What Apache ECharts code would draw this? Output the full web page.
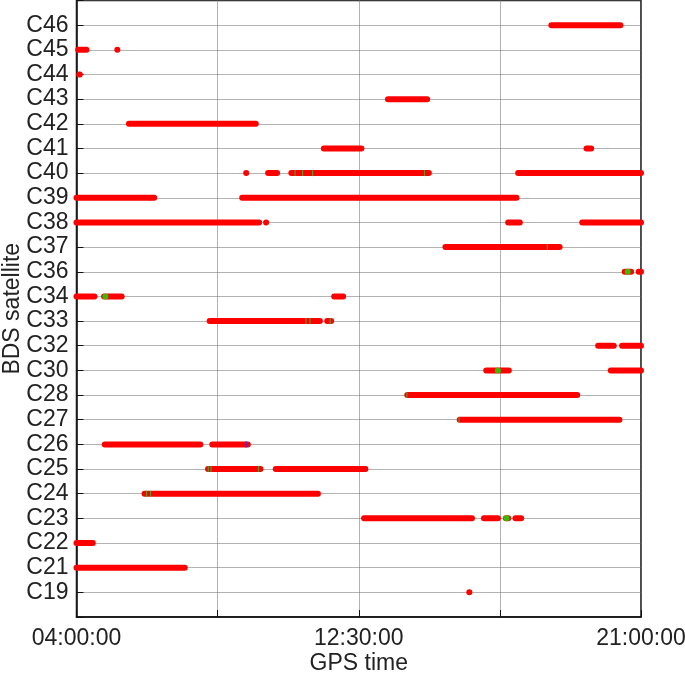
<!DOCTYPE html>
<html>
<head>
<meta charset="utf-8">
<script src="https://cdn.jsdelivr.net/npm/echarts@6/dist/echarts.min.js"></script>
<style>
  html, body { margin: 0; padding: 0; background: #fff; }
  #chart { width: 685px; height: 675px; }
</style>
</head>
<body>
<div id="chart"></div>
<script>
// Satellites, bottom to top
const satellites = ['C19','C21','C22','C23','C24','C25','C26','C27','C28','C30','C32','C33',
                    'C34','C36','C37','C38','C39','C40','C41','C42','C43','C44','C45','C46'];

// Tracking passes: [satellite, start hour, end hour] (GPS time, decimal hours)
const passes = [
  ['C46', 18.30, 20.38],
  ['C45', 4.05, 4.30], ['C45', 5.23, 5.23],
  ['C44', 4.08, 4.10],
  ['C43', 13.38, 14.56],
  ['C42', 5.58, 9.40],
  ['C41', 11.45, 12.58], ['C41', 19.36, 19.50],
  ['C40', 9.11, 9.11], ['C40', 9.77, 10.04], ['C40', 10.47, 14.61], ['C40', 17.30, 21.0],
  ['C39', 4.0, 6.34], ['C39', 8.99, 17.25],
  ['C38', 4.0, 9.50], ['C38', 9.71, 9.71], ['C38', 17.0, 17.35], ['C38', 19.23, 21.0],
  ['C37', 15.11, 18.55],
  ['C36', 20.51, 20.70], ['C36', 20.93, 21.0],
  ['C34', 4.0, 4.54], ['C34', 4.83, 5.36], ['C34', 11.76, 12.03],
  ['C33', 8.01, 11.33], ['C33', 11.55, 11.67],
  ['C32', 19.71, 20.18], ['C32', 20.43, 21.0],
  ['C30', 16.34, 17.02], ['C30', 20.09, 21.0],
  ['C28', 13.96, 19.08],
  ['C27', 15.54, 20.35],
  ['C26', 4.85, 7.73], ['C26', 8.09, 9.16],
  ['C25', 7.96, 9.54], ['C25', 10.0, 12.70],
  ['C24', 6.05, 11.27],
  ['C23', 12.66, 15.91], ['C23', 16.27, 16.69], ['C23', 16.93, 17.0], ['C23', 17.22, 17.39],
  ['C22', 4.0, 4.49],
  ['C21', 4.0, 7.26],
  ['C19', 15.83, 15.83]
];

// Small green marks on passes: [satellite, hour]
const greenMarks = [
  ['C40', 10.58], ['C40', 10.81], ['C40', 11.11], ['C40', 14.48],
  ['C37', 18.18],
  ['C33', 10.91], ['C33', 11.03], ['C33', 11.64],
  ['C28', 13.95],
  ['C27', 15.52],
  ['C25', 7.97], ['C25', 8.05], ['C25', 9.48],
  ['C24', 6.11], ['C24', 6.23]
];
// Green dots: [satellite, hour]
const greenDots = [
  ['C34', 4.87], ['C36', 20.60], ['C30', 16.69], ['C23', 16.95]
];
// Blue marks: [satellite, hour]
const blueMarks = [
  ['C26', 9.11]
];

const T0 = 4;          // axis start 04:00:00
const SPAN = 17;       // 04:00:00 -> 21:00:00
const STEP = 4.25;     // grid step (hours)
const xTickLabels = ['04:00:00', '', '12:30:00', '', '21:00:00'];

const idx = s => satellites.indexOf(s);
const passData = passes.map(p => [p[1] - T0, p[2] - T0, idx(p[0])]);
const markData = arr => arr.map(m => [m[1] - T0, idx(m[0])]);

const chart = echarts.init(document.getElementById('chart'), null, { renderer: 'canvas' });
const FONT = 'Liberation Sans, Arial, sans-serif';
const FS = 23;

chart.setOption({
  animation: false,
  backgroundColor: '#ffffff',
  grid: {
    left: 76.5, right: 44, top: 0.5, bottom: 58,
    containLabel: false, outerBoundsMode: 'none',
    show: true, borderColor: '#111', borderWidth: 1.5
  },
  xAxis: {
    type: 'value', min: 0, max: SPAN, interval: STEP,
    name: 'GPS time', nameLocation: 'middle', nameGap: 35, nameMoveOverlap: false,
    nameTextStyle: { fontFamily: FONT, fontSize: FS, color: '#222' },
    axisLine: { show: true, onZero: false, lineStyle: { color: '#111', width: 1.5 } },
    axisTick: { show: true, inside: true, length: 7, lineStyle: { color: '#111' } },
    axisLabel: {
      fontFamily: FONT, fontSize: FS, color: '#222', margin: 10,
      formatter: v => xTickLabels[Math.round(v / STEP)] || ''
    },
    splitLine: { show: true, lineStyle: { type: [1, 1], color: '#666', width: 1 } }
  },
  yAxis: {
    type: 'value', min: -1, max: satellites.length, interval: 1,
    name: 'BDS satellite', nameLocation: 'middle', nameGap: 52, nameRotate: 90, nameMoveOverlap: false,
    nameTextStyle: { fontFamily: FONT, fontSize: FS, color: '#222' },
    axisLine: { show: true, onZero: false, lineStyle: { color: '#111', width: 1.5 } },
    axisTick: { show: true, inside: true, length: 7, lineStyle: { color: '#111' } },
    axisLabel: {
      fontFamily: FONT, fontSize: FS, color: '#222', margin: 8,
      formatter: v => satellites[v] || ''
    },
    splitLine: { show: true, lineStyle: { type: [1, 1], color: '#666', width: 1 } }
  },
  series: [
    {
      type: 'custom',
      data: passData,
      encode: { x: [0, 1], y: 2 },
      renderItem: (params, api) => {
        const y = api.value(2);
        const p1 = api.coord([api.value(0), y]);
        const p2 = api.coord([api.value(1), y]);
        if (Math.abs(p2[0] - p1[0]) < 0.5) {
          return { type: 'circle', shape: { cx: p1[0], cy: p1[1], r: 3 }, style: { fill: '#ff0000' } };
        }
        return {
          type: 'line',
          shape: { x1: p1[0], y1: p1[1], x2: p2[0], y2: p2[1] },
          style: { stroke: '#ff0000', lineWidth: 6, lineCap: 'round' }
        };
      },
      z: 3
    },
    {
      type: 'scatter', data: markData(greenMarks),
      symbol: 'rect', symbolSize: [1.2, 6],
      itemStyle: { color: '#33bb33' }, z: 4
    },
    {
      type: 'scatter', data: markData(greenDots),
      symbol: 'circle', symbolSize: 6,
      itemStyle: { color: '#00ee00' }, z: 4
    },
    {
      type: 'scatter', data: markData(blueMarks),
      symbol: 'rect', symbolSize: [2, 6],
      itemStyle: { color: '#3333ff' }, z: 4
    }
  ]
});
</script>
</body>
</html>
